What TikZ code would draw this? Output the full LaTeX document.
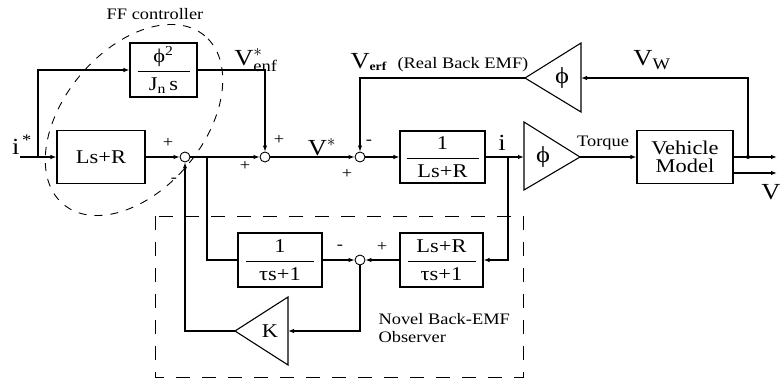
\documentclass[tikz,border=0pt]{standalone}
\usepackage{amsmath}
\usepackage{fontspec}
\setmainfont{Liberation Serif}[FakeStretch=1.15]
\usetikzlibrary{arrows.meta}

% block fraction: bar width, numerator, denominator
\newcommand{\blkfrac}[3]{$\displaystyle\frac{\text{#2}}{\makebox[#1]{#3}}$}

\begin{document}
\begin{tikzpicture}[x=1pt,y=-1pt,>={Latex[length=6pt,width=4.5pt]},line width=1.1pt,
  font=\fontsize{19.5}{21}\selectfont,
  blk/.style={draw,inner sep=0pt,align=center},
  sumpt/.style={circle,draw,line width=0.9pt,minimum size=10pt,inner sep=0pt},
  lbl/.style={inner sep=0pt},
  small/.style={font=\fontsize{16}{18}\selectfont},
  big/.style={font=\fontsize{23}{25}\selectfont}]
\useasboundingbox (0,0) rectangle (782,380);
% --- blocks
\node[blk,minimum width=67pt,minimum height=54pt] (ff) at (163.5,70) {\blkfrac{52pt}{ϕ\textsuperscript{2}}{J\textsubscript{n}\,s}};
\node[blk,minimum width=88pt,minimum height=53pt] (lsr) at (101,157) {Ls+R};
\node[blk,minimum width=85pt,minimum height=52pt] (plant) at (442.5,157) {\blkfrac{72pt}{1}{Ls+R}};
\node[blk,minimum width=96pt,minimum height=53pt] (vm) at (685,157) {Vehicle\\[-3pt]Model};
\node[blk,minimum width=84pt,minimum height=54pt] (obs1) at (280,260) {\blkfrac{68pt}{1}{τs+1}};
\node[blk,minimum width=83pt,minimum height=54pt] (obs2) at (441.5,260) {\blkfrac{68pt}{Ls+R}{τs+1}};
% --- summing points
\node[sumpt] (sum1) at (185,157) {};
\node[sumpt] (sum2) at (265,157) {};
\node[sumpt] (sum3) at (360,157) {};
\node[sumpt] (sum4) at (360,260) {};
% --- gains
\draw (524,122) -- (580,157) -- (524,190) -- cycle;
\coordinate (phiin) at (524,157); \coordinate (phiout) at (580,157);
\node[lbl,big] (phitxt) at (543,157) {ϕ};
\draw (581,43) -- (525,78) -- (581,112) -- cycle;
\coordinate (fbin) at (581,78); \coordinate (fbout) at (525,78);
\node[lbl,big] (fbtxt) at (562,78) {ϕ};
\draw (288,297) -- (235,331) -- (288,365) -- cycle;
\coordinate (kin) at (288,331); \coordinate (kout) at (235,331);
\node[lbl] (ktxt) at (270,331) {K};
% --- branch points
\coordinate (iin) at (20,157);
\coordinate (ibr) at (38,157);
\coordinate (vbr) at (207,157);
\coordinate (ibr2) at (508,157);
\coordinate (vwbr) at (748,157);
\coordinate (vmout2) at ([yshift=-16pt]vm.east);
\coordinate (out1) at (777,157);
\coordinate (out2) at (777,173);
% --- forward path
\draw[->] (iin) -- (lsr);
\draw[->] (ibr) |- (ff.west);
\draw[->] (ff.east) -| (sum2.north);
\draw[->] (lsr) -- (sum1);
\draw[->] (sum1) -- (sum2);
\draw[->] (sum2) -- (sum3);
\draw[->] (sum3) -- (plant);
\draw[->] (plant) -- (phiin);
\draw[->] (phiout) -- (vm);
\draw[->] (vm.east) -- (out1);
\draw[->] (vmout2) -- (out2);
\fill (vwbr) circle (2pt);
% --- back-EMF feedback
\draw[->] (vwbr) |- (fbin);
\draw[->] (fbout) -| (sum3.north);
% --- observer
\draw[->] (ibr2) |- (obs2.east);
\draw[->] (obs2) -- (sum4);
\draw (vbr) |- (obs1.west);
\draw[->] (obs1) -- (sum4);
\draw[->] (sum4.south) |- (kin);
\draw[->] (kout) -| (sum1.south);
% --- dashed groups
\draw[line width=0.9pt,dash pattern=on 8pt off 8pt,rotate around={50:(134,120)}] (134,120) ellipse [x radius=110pt,y radius=70pt];
\draw[line width=0.9pt,dash pattern=on 14pt off 12pt] (155,216) rectangle (523,377);
% --- labels
\node[lbl,small] (fflbl) at (155,14) {FF controller};
\node[lbl,big] (istar) at (22,145) {i\textsuperscript{\,*}};
\node[lbl,big] (venf) at (256,60) {$\text{V}^{*}_{\text{enf}}$};
\node[lbl,big] (vstar) at (322,147) {$\text{V}^{*}$};
\node[lbl,big,anchor=base west] (verf) at (350,68) {V{\fontsize{17}{19}\selectfont\textsubscript{\textbf{erf}}}};
\node[lbl,small,anchor=base west] (verftxt) at (397,68) {(Real Back EMF)};
\node[lbl,big] (ilbl) at (502,143) {i};
\node[lbl,small] (torque) at (603,143) {Torque};
\node[lbl,big] (vw) at (652,60) {V\textsubscript{W}};
\node[lbl,big,anchor=east] (vout) at (781,192) {V};
\node[lbl,small] (p1) at (168,143) {+};
\node[lbl,small] (m1) at (174,180) {-};
\node[lbl,small] (p2a) at (279,140) {+};
\node[lbl,small] (p2b) at (245,166) {+};
\node[lbl,small] (m3) at (369,142) {-};
\node[lbl,small] (p3) at (347,174) {+};
\node[lbl,small] (m4) at (340,247) {-};
\node[lbl,small] (p4) at (382,247) {+};
\node[lbl,small,align=left,anchor=north west] (obslbl) at (378,313) {Novel Back-EMF\\Observer};
\end{tikzpicture}
\end{document}
